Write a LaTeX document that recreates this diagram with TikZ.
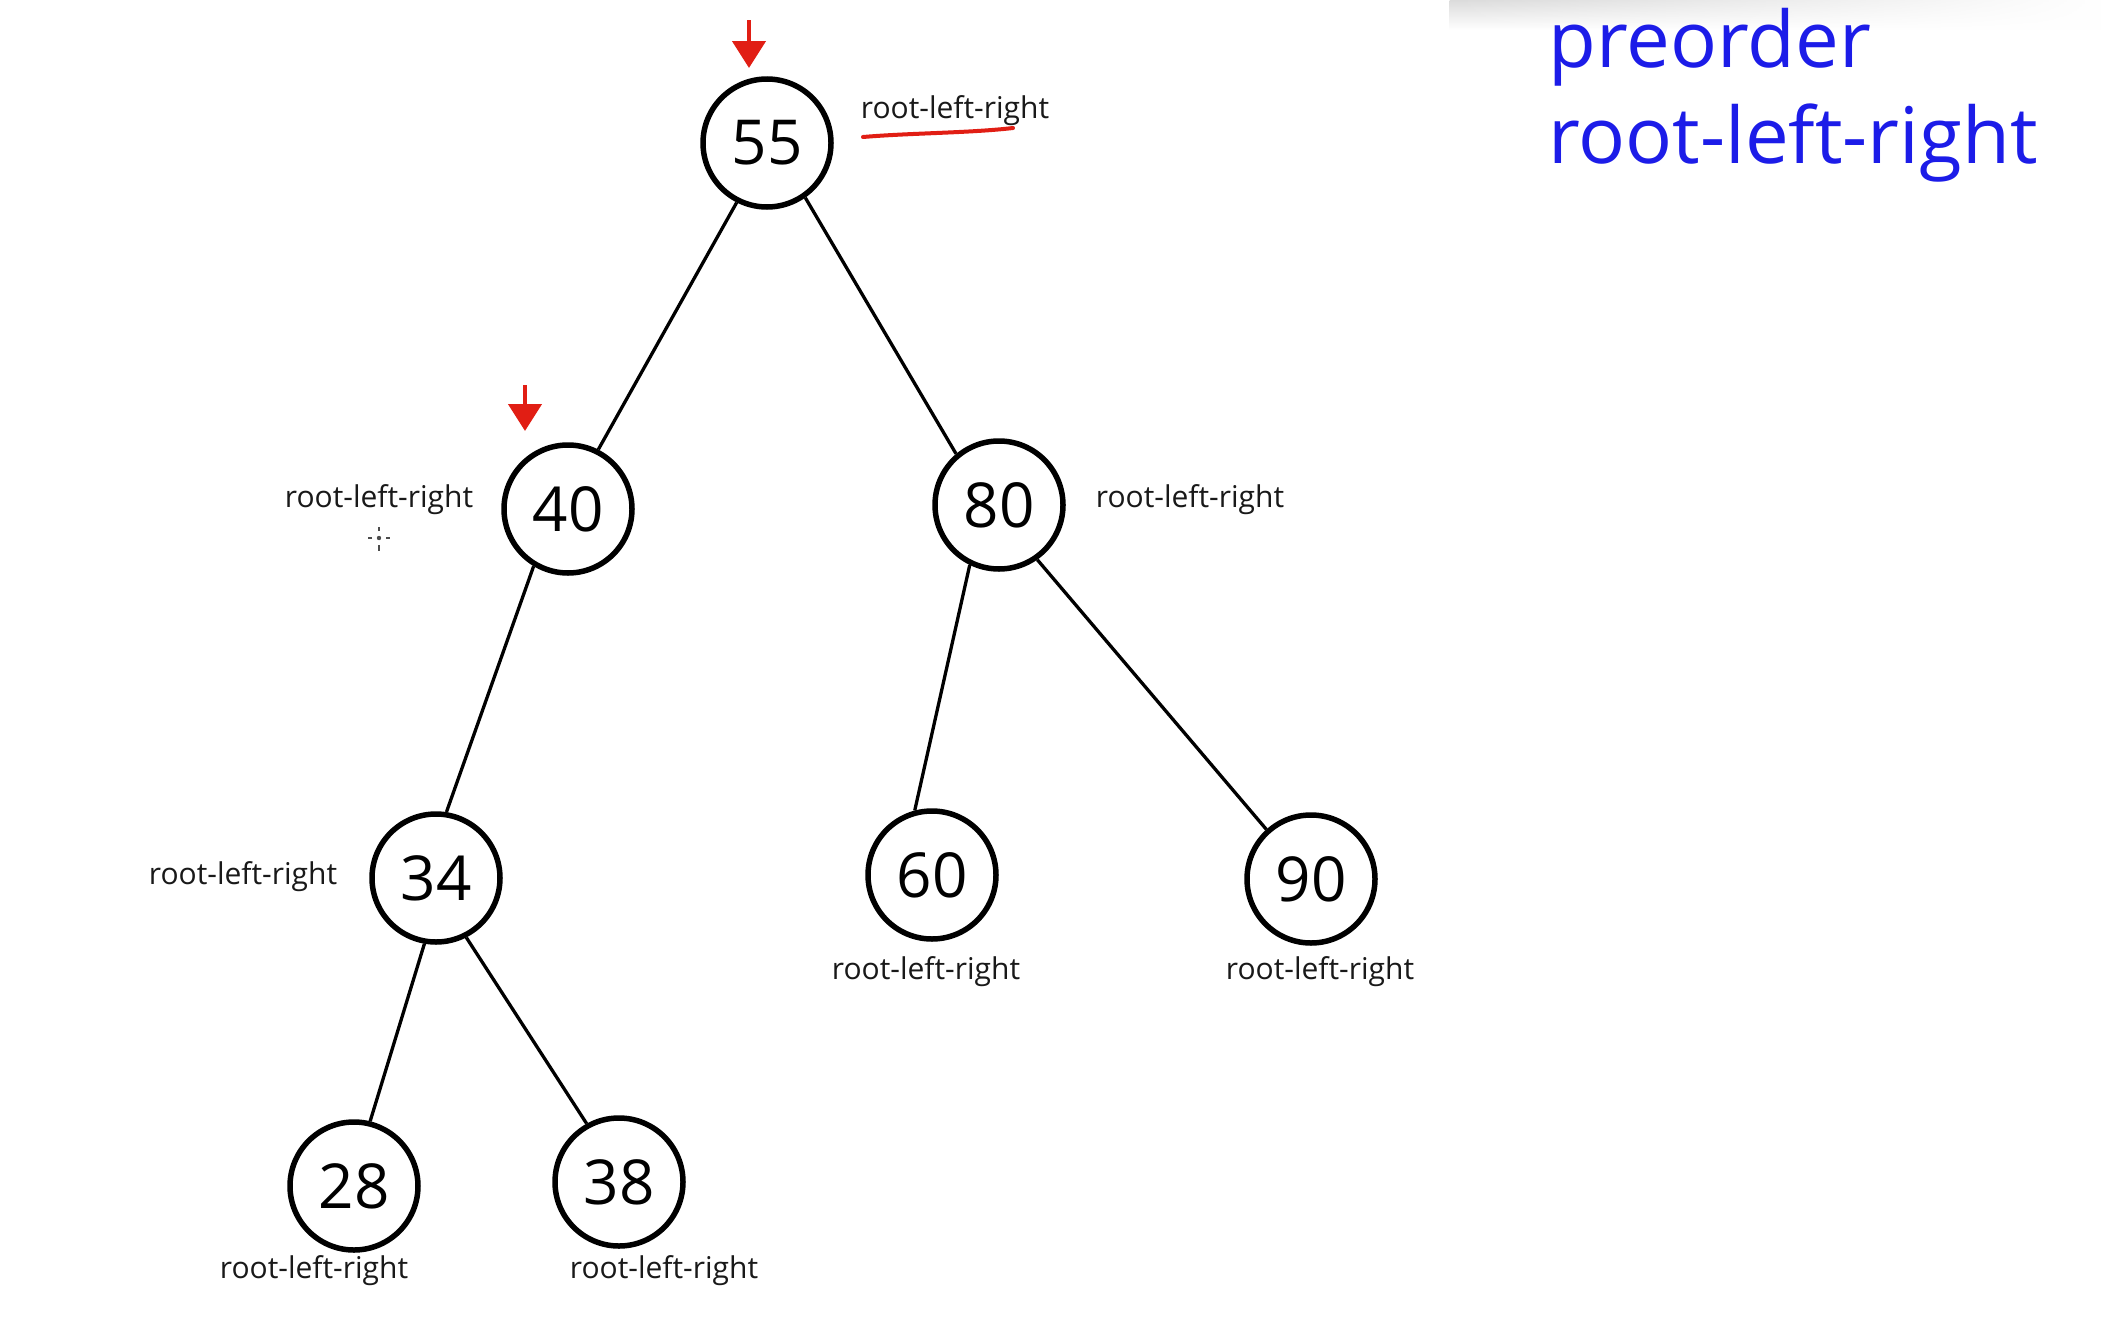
\documentclass[tikz,border=0pt]{standalone}
\usepackage{fontspec}
\setmainfont{Open Sans}
\usetikzlibrary{arrows.meta,fadings}
\definecolor{titleblue}{RGB}{28,28,232}
\definecolor{penred}{RGB}{225,30,20}
\begin{document}
\begin{tikzpicture}[x=1pt,y=-1pt,
  tnode/.style={circle,draw,line width=5.5pt,minimum size=128pt,inner sep=0pt,font=\fontsize{62}{62}\selectfont},
  lbl/.style={font=\fontsize{30}{30}\selectfont,text=black!90,inner sep=0pt},
  edge/.style={line width=3.3pt},
  redarrow/.style={draw=penred,line width=4.5pt,-{Triangle[length=27pt,width=33pt,fill=penred]}},
  title/.style={font=\fontsize{78}{78}\selectfont,text=titleblue,anchor=base west,inner sep=0pt}
]
\useasboundingbox (0,0) rectangle (2102,1341);
\fill[white] (0,0) rectangle (2102,1341);
% top-right grey band
\shade[top color=black!14,bottom color=white,path fading=east] (1450,0) rectangle (2102,30);

% tree nodes
\node[tnode] (n55) at (767,143) {55};
\node[tnode] (n40) at (568,509) {40};
\node[tnode] (n80) at (999,505) {80};
\node[tnode] (n34) at (436,878) {34};
\node[tnode] (n60) at (932,875) {60};
\node[tnode] (n90) at (1311,879) {90};
\node[tnode] (n28) at (354,1186) {28};
\node[tnode] (n38) at (619,1182) {38};

% edges
\draw[edge] (n55.243) -- (n40.63);
\draw[edge] (n55.305) -- (n80.130);
\draw[edge] (n40.239) -- (n34.81);
\draw[edge] (n80.244) -- (n60.105);
\draw[edge] (n80.305) -- (n90.132);
\draw[edge] (n34.260) -- (n28.76);
\draw[edge] (n34.297) -- (n38.119);

% labels
\node[lbl] (l55) at (955,111) {root-left-right};
\node[lbl] (l40) at (379,500) {root-left-right};
\node[lbl] (l80) at (1190,500) {root-left-right};
\node[lbl] (l34) at (243,877) {root-left-right};
\node[lbl] (l60) at (926,972) {root-left-right};
\node[lbl] (l90) at (1320,972) {root-left-right};
\node[lbl] (l28) at (314,1271) {root-left-right};
\node[lbl] (l38) at (664,1271) {root-left-right};

% red underline
\coordinate (u1) at (863,137);
\coordinate (u2) at (1013,128);
\draw[penred,line width=4pt,line cap=round] (u1) .. controls (910,133) and (970,133) .. (u2);

% red arrows
\coordinate (a1s) at (749,20);
\coordinate (a1e) at (749,68);
\draw[redarrow] (a1s) -- (a1e);
\coordinate (a2s) at (525,385);
\coordinate (a2e) at (525,431);
\draw[redarrow] (a2s) -- (a2e);

% cursor crosshair
\coordinate (cc) at (379,538);
\fill[black!70] (cc) circle (2.2pt);
\draw[black!70,line width=1.6pt] (372,538) -- (368,538) (386,538) -- (390,538)
  (379,531) -- (379,527) (379,545) -- (379,551);

% title
\node[title] (t1) at (1548,67) {preorder};
\node[title] (t2) at (1548,163) {root-left-right};
\end{tikzpicture}
\end{document}
